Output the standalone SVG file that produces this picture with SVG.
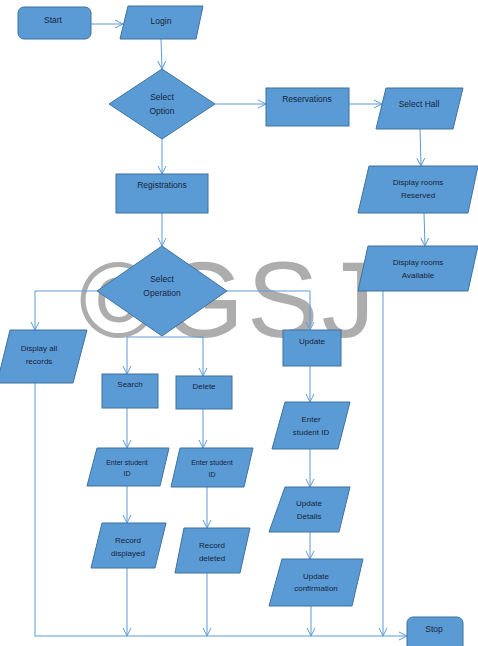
<svg xmlns="http://www.w3.org/2000/svg" width="478" height="646" viewBox="0 0 478 646">
<defs>
<marker id="arr" markerUnits="userSpaceOnUse" markerWidth="10" markerHeight="10" refX="8" refY="4" orient="auto" viewBox="0 0 10 8">
<path d="M0,0 L8,4 L0,8" fill="none" stroke="#5b9bd5" stroke-width="1"/>
</marker>
<style>
.n{fill:#5b9bd5;stroke:#41719c;stroke-width:1}
.t{font-family:"Liberation Sans",Arial,sans-serif;font-size:8.5px;fill:#16243a;text-anchor:middle}
.s{font-size:7px}
.m{font-size:8px}
.c{fill:none;stroke:#5b9bd5;stroke-width:1}
.a{marker-end:url(#arr)}
.wm{font-family:"Liberation Sans",Arial,sans-serif;font-size:107px;letter-spacing:3px;fill:#adadad}
</style>
</defs>
<rect width="478" height="646" fill="#ffffff"/>
<text class="wm" x="79" y="337">©GSJ</text>
<g id="connectors">
<path class="c a" d="M91,24 H123"/>
<path class="c a" d="M161,39 L162,69"/>
<path class="c a" d="M162,139 V174"/>
<path class="c a" d="M215,104 H266"/>
<path class="c a" d="M349,104 H382"/>
<path class="c a" d="M420,129 L421,166"/>
<path class="c a" d="M424,213 L425,246"/>
<path class="c a" d="M383,291 V636"/>
<path class="c a" d="M162,213 V246"/>
<path class="c a" d="M97,291 H35 V330"/>
<path class="c a" d="M227,291 H310 V330"/>
<path class="c a" d="M162,337 H127 V374"/>
<path class="c a" d="M162,337 H203 V376"/>
<path class="c a" d="M127,408 V448"/>
<path class="c a" d="M127,486 V523"/>
<path class="c a" d="M127,568 V636"/>
<path class="c a" d="M203,409 V448"/>
<path class="c a" d="M207,487 V528"/>
<path class="c a" d="M207,573 V636"/>
<path class="c a" d="M310,366 V402"/>
<path class="c a" d="M310,449 V487"/>
<path class="c a" d="M310,532 V559"/>
<path class="c a" d="M311,606 V636"/>
<path class="c a" d="M35,383 V636 H407"/>
</g>
<g id="start"><rect class="n" x="18" y="7" width="73" height="32" rx="6"/><text class="t" x="53" y="23">Start</text></g>
<g id="login"><polygon class="n" points="128,6 203,6 196,39 120,39"/><text class="t" x="161" y="24">Login</text></g>
<g id="selectOption"><polygon class="n" points="162,69 215,104 162,139 109,104"/><text class="t" x="162" y="100">Select</text><text class="t" x="162" y="114">Option</text></g>
<g id="reservations"><rect class="n" x="266" y="88" width="83" height="38"/><text class="t" x="307" y="102">Reservations</text></g>
<g id="selectHall"><polygon class="n" points="386,88 463,88 453,129 376,129"/><text class="t" x="419" y="107">Select Hall</text></g>
<g id="registrations"><rect class="n" x="116" y="174" width="92" height="39"/><text class="t" x="162" y="188">Registrations</text></g>
<g id="displayReserved"><polygon class="n" points="369,166 478,166 468,213 358,213"/><text class="t m" x="418" y="185">Display rooms</text><text class="t m" x="418" y="198">Reserved</text></g>
<g id="displayAvailable"><polygon class="n" points="368,246 478,246 468,291 358,291"/><text class="t m" x="418" y="265">Display rooms</text><text class="t m" x="418" y="278">Available</text></g>
<g id="selectOperation"><polygon class="n" points="162,246 227,291 162,336 97,291"/><text class="t" x="162" y="282">Select</text><text class="t" x="162" y="296">Operation</text></g>
<g id="displayAll"><polygon class="n" points="10,330 87,330 73,383 -3,383"/><text class="t m" x="39" y="351">Display all</text><text class="t m" x="39" y="364">records</text></g>
<g id="search"><rect class="n" x="102" y="374" width="56" height="34"/><text class="t m" x="130" y="387">Search</text></g>
<g id="delete"><rect class="n" x="176" y="376" width="56" height="33"/><text class="t m" x="204" y="389">Delete</text></g>
<g id="update"><rect class="n" x="283" y="330" width="58" height="36"/><text class="t m" x="312" y="344">Update</text></g>
<g id="enterId1"><polygon class="n" points="97,448 169,448 160,486 87,486"/><text class="t s" x="127" y="465">Enter student</text><text class="t s" x="127" y="476">ID</text></g>
<g id="enterId2"><polygon class="n" points="180,448 253,448 244,487 171,487"/><text class="t s" x="212" y="465">Enter student</text><text class="t s" x="212" y="477">ID</text></g>
<g id="enterId3"><polygon class="n" points="285,402 350,402 338,449 272,449"/><text class="t m" x="311" y="422">Enter</text><text class="t m" x="311" y="435">student ID</text></g>
<g id="recordDisplayed"><polygon class="n" points="102,523 166,523 155,568 91,568"/><text class="t m" x="128" y="543">Record</text><text class="t m" x="128" y="556">displayed</text></g>
<g id="recordDeleted"><polygon class="n" points="184,528 250,528 240,573 175,573"/><text class="t m" x="212" y="548">Record</text><text class="t m" x="212" y="561">deleted</text></g>
<g id="updateDetails"><polygon class="n" points="285,487 350,487 339,532 269,532"/><text class="t m" x="309" y="506">Update</text><text class="t m" x="309" y="519">Details</text></g>
<g id="updateConfirmation"><polygon class="n" points="282,559 363,559 352,606 269,606"/><text class="t m" x="316" y="579">Update</text><text class="t m" x="316" y="591">confirmation</text></g>
<g id="stop"><rect class="n" x="407" y="617" width="56" height="40" rx="6"/><text class="t" x="434" y="632">Stop</text></g>
</svg>
